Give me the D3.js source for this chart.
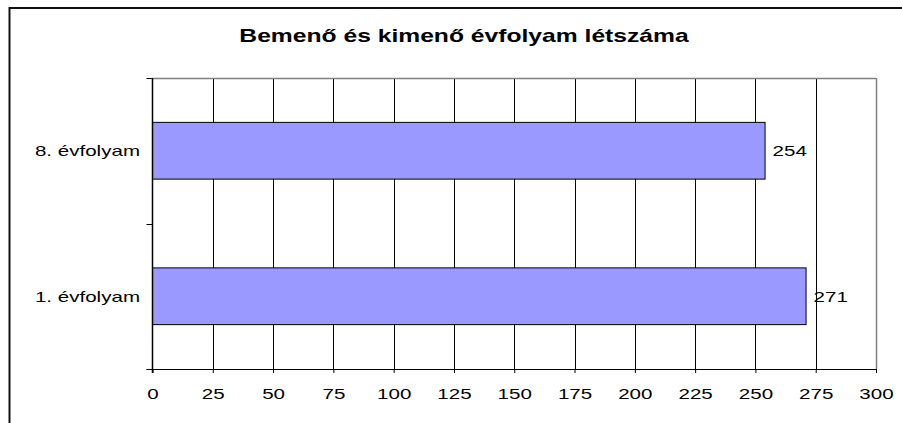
<!DOCTYPE html>
<html>
<head>
<meta charset="utf-8">
<script src="https://cdn.jsdelivr.net/npm/d3@7"></script>
<style>
  body { margin: 0; background: #fff; }
  svg { display: block; font-family: "Liberation Sans", Arial, sans-serif; }
</style>
</head>
<body>
<svg id="chart" width="902" height="423"></svg>
<script>
// chart values
var title = "Bemenő és kimenő évfolyam létszáma";
var categories = ["8. évfolyam", "1. évfolyam"];
var values = [254, 271];
var xTicks = [0, 25, 50, 75, 100, 125, 150, 175, 200, 225, 250, 275, 300];

var svg = d3.select("#chart");
// the original picture is stretched sideways, so text gets the same stretch
var stretch = 1.37;

var plot = {left: 152.5, right: 876, top: 78, bottom: 369};

var xScale = d3.scaleLinear().domain([0, 300]).range([plot.left, plot.right]);
var yScale = d3.scaleBand().domain(categories).range([plot.top, plot.bottom])
  .paddingInner(0.61).paddingOuter(0.305);

//outer frame (only top and left edges are in view)
svg.append("path")
  .attr("d", "M9.5,423 V8 H902")
  .attr("fill", "none")
  .attr("stroke", "#111")
  .attr("stroke-width", 2);

//title
svg.append("text")
  .attr("transform", "translate(464,41.5) scale(" + stretch + ",1)")
  .attr("text-anchor", "middle")
  .attr("font-size", 18)
  .attr("font-weight", "bold")
  .text(title);

//vertical grid lines
svg.append("g").selectAll("line").data(xTicks.slice(1)).enter().append("line")
  .attr("x1", d => Math.round(xScale(d)) + 0.5)
  .attr("x2", d => Math.round(xScale(d)) + 0.5)
  .attr("y1", plot.top)
  .attr("y2", plot.bottom)
  .attr("stroke", d => d === 300 ? "#808080" : "#000")
  .attr("stroke-width", d => d === 300 ? 1.5 : 1);

//grey top edge of plot area
svg.append("line")
  .attr("x1", plot.left).attr("x2", plot.right)
  .attr("y1", plot.top + 0.5).attr("y2", plot.top + 0.5)
  .attr("stroke", "#808080").attr("stroke-width", 1.5);

//bars
svg.append("g").selectAll("rect").data(values).enter().append("rect")
  .attr("x", plot.left)
  .attr("y", (d, i) => yScale(categories[i]))
  .attr("width", d => xScale(d) - plot.left)
  .attr("height", yScale.bandwidth())
  .attr("fill", "#9999ff")
  .attr("stroke", "#000")
  .attr("stroke-width", 1);

//value labels
svg.append("g").selectAll("text").data(values).enter().append("text")
  .attr("transform", (d, i) => "translate(" + (xScale(d) + 7.5) + "," +
        (yScale(categories[i]) + yScale.bandwidth() / 2 + 5.5) + ") scale(" + stretch + ",1)")
  .attr("font-size", 15)
  .attr("fill", "#000")
  .text(d => d);

//x axis
let xAxis = d3.axisBottom(xScale).tickValues(xTicks).tickSize(4).tickSizeOuter(0);
let gx = svg.append("g")
  .attr("transform", "translate(0," + plot.bottom + ")")
  .call(xAxis);
gx.select(".domain").remove();
gx.selectAll(".tick line").attr("stroke", "#000");
gx.selectAll(".tick text")
  .attr("y", 30).attr("dy", null)
  .attr("font-size", 15)
  .attr("font-family", "Liberation Sans, Arial, sans-serif")
  .attr("fill", "#000")
  .attr("transform", "scale(" + stretch + ",1)");
svg.append("line")
  .attr("x1", plot.left - 6).attr("x2", plot.right)
  .attr("y1", plot.bottom + 0.5).attr("y2", plot.bottom + 0.5)
  .attr("stroke", "#000");

//y axis: line, ticks at band edges, labels at band centres
svg.append("line")
  .attr("x1", plot.left).attr("x2", plot.left)
  .attr("y1", plot.top).attr("y2", plot.bottom + 4)
  .attr("stroke", "#000").attr("stroke-width", 1.5);
let edges = d3.range(categories.length + 1).map(i => plot.top + i * (plot.bottom - plot.top) / categories.length);
svg.append("g").selectAll("line").data(edges).enter().append("line")
  .attr("x1", plot.left - 6).attr("x2", plot.left)
  .attr("y1", d => Math.round(d) + 0.5).attr("y2", d => Math.round(d) + 0.5)
  .attr("stroke", "#000");
svg.append("g").selectAll("text").data(categories).enter().append("text")
  .attr("transform", d => "translate(140," + (yScale(d) + yScale.bandwidth() / 2 + 5.5) + ") scale(" + stretch + ",1)")
  .attr("text-anchor", "end")
  .attr("font-size", 15)
  .attr("fill", "#000")
  .text(d => d);
</script>
</body>
</html>
